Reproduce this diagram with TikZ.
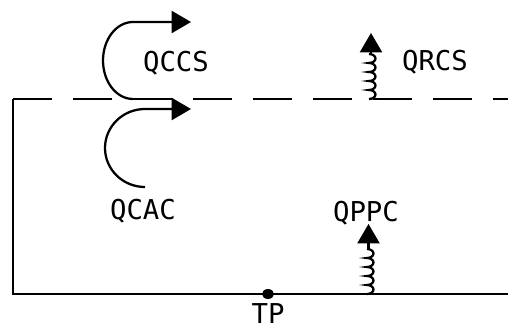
\documentclass[tikz,border=0pt]{standalone}
\usepackage{fontspec}
\setmainfont{DejaVu Sans Mono}
\usetikzlibrary{arrows.meta}
\begin{document}
\begin{tikzpicture}[x=0.75pt,y=0.75pt,
  ln/.style={line width=1.7pt},
  arr/.style={ln,-{Triangle[length=14.5pt,width=16.5pt]}},
  lbl/.style={font=\fontsize{20.5pt}{22pt}\selectfont,inner sep=0pt}]
\useasboundingbox (0,0) rectangle (508,329);
% frame
\coordinate (tl) at (13,230);
\coordinate (tr) at (508,230);
\coordinate (bl) at (13,35);
\coordinate (br) at (508,35);
\draw[ln] (tl) -- (bl) -- (br);
\draw[ln,dash pattern=on 29.25pt off 15.75pt] (tl) -- (tr);
% TP
\fill (268,35) circle[x radius=6,y radius=5];
\node[lbl] (tp) at (268,15) {TP};
% QCCS curve
\coordinate (ccsS) at (133,230);
\coordinate (ccsT) at (191,307);
\draw[arr] (ccsS) arc[start angle=270,end angle=90,x radius=30,y radius=38.5] -- (ccsT);
\node[lbl] (qccs) at (176,266) {QCCS};
% QCAC curve
\coordinate (cacS) at (145,142);
\coordinate (cacT) at (191,220);
\draw[arr] (cacS) arc[start angle=270,end angle=90,x radius=40,y radius=39] -- (cacT);
\node[lbl] (qcac) at (143,118) {QCAC};
% QRCS spring
\coordinate (rcsB) at (369,230);
\coordinate (rcsE) at (371,275);
\coordinate (rcsT) at (371,296);
\draw[ln] (rcsB) \foreach \i in {1,...,5}{ arc[start angle=-90,end angle=90,x radius=6.5,y radius=4.5] };
\draw[arr] (rcsE) -- (rcsT);
\node[lbl] (qrcs) at (435,267) {QRCS};
% QPPC spring
\coordinate (ppcB) at (367,35);
\coordinate (ppcE) at (368.5,80);
\coordinate (ppcT) at (368.5,105);
\draw[ln] (ppcB) \foreach \i in {1,...,5}{ arc[start angle=-90,end angle=90,x radius=6.5,y radius=4.5] };
\draw[arr] (ppcE) -- (ppcT);
\node[lbl] (qppc) at (366,116) {QPPC};
\end{tikzpicture}
\end{document}
